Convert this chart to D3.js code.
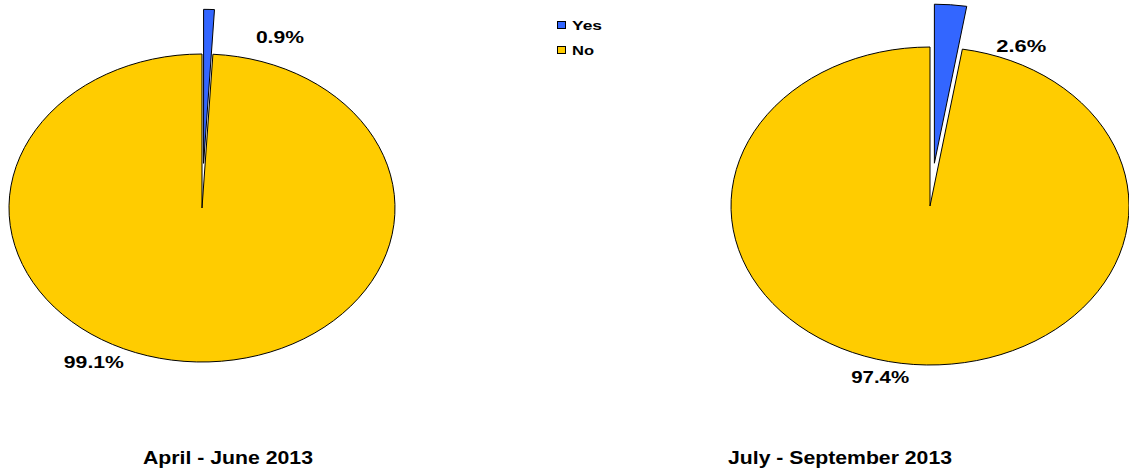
<!DOCTYPE html>
<html>
<head>
<meta charset="utf-8">
<script src="https://cdn.jsdelivr.net/npm/d3@7"></script>
<style>
  html, body { margin: 0; padding: 0; background: #fff; }
  svg { display: block; }
  text { font-family: "Liberation Sans", Arial, sans-serif; font-weight: bold; fill: #000; }
</style>
</head>
<body>
<svg id="chart" width="1129" height="473"></svg>
<script>
// Share of responses per quarter (percent)
const periods = ["April - June 2013", "July - September 2013"];
const categories = ["Yes", "No"];
const yesShare = [0.9, 2.6];
const noShare = [99.1, 97.4];
const palette = ["#3366ff", "#ffcc00"];

// Pie placement (flattened ellipses) and label anchors in each pie's polar frame
const layout = [
  { cx: 202, cy: 208, rx: 193, ry: 154, explode: 0.29, titleX: 228, titleW: 170,
    labels: [{ a: 20, r: 1.18, w: 48 }, { a: 209.3, r: 1.145, w: 60 }] },
  { cx: 930, cy: 206, rx: 199, ry: 159, explode: 0.27, titleX: 840, titleW: 224,
    labels: [{ a: 24.5, r: 1.105, w: 50 }, { a: 193.1, r: 1.105, w: 58 }] }
];

const svg = d3.select("#chart");
const color = d3.scaleOrdinal().domain(categories).range(palette);
const pie = d3.pie().sort(null).value(d => d.value);

periods.forEach((period, i) => {
  const L = layout[i];
  const data = [
    { key: "Yes", value: yesShare[i] },
    { key: "No", value: noShare[i] }
  ];
  const arcs = pie(data);
  const arc = d3.arc().innerRadius(0).outerRadius(L.rx);
  const k = L.ry / L.rx;

  const g = svg.append("g")
    .attr("transform", `translate(${L.cx},${L.cy}) scale(1,${k})`);

  // Draw "No" first so the exploded "Yes" slice sits on top
  const order = [1, 0];
  order.forEach(j => {
    const d = arcs[j];
    let ox = 0, oy = 0;
    if (d.data.key === "Yes") {
      const mid = (d.startAngle + d.endAngle) / 2;
      const dist = L.explode * L.rx;
      ox = Math.sin(mid) * dist;
      oy = -Math.cos(mid) * dist;
    }
    g.append("path")
      .attr("d", arc(d))
      .attr("transform", `translate(${ox},${oy})`)
      .attr("fill", color(d.data.key))
      .attr("stroke", "#000")
      .attr("stroke-width", 1)
      .attr("stroke-linejoin", "miter")
      .attr("vector-effect", "non-scaling-stroke");
  });

  // Percentage labels
  arcs.forEach((d, j) => {
    const lab = L.labels[j];
    const ang = lab.a * Math.PI / 180;
    const x = L.cx + Math.sin(ang) * lab.r * L.rx;
    const y = L.cy - Math.cos(ang) * lab.r * L.rx * k;
    svg.append("text")
      .attr("x", x)
      .attr("y", y)
      .attr("dy", "0.36em")
      .attr("text-anchor", "middle")
      .attr("font-size", 17)
      .attr("textLength", lab.w)
      .attr("lengthAdjust", "spacingAndGlyphs")
      .text(d3.format(".1f")(d.data.value) + "%");
  });

  // Period title
  svg.append("text")
    .attr("x", L.titleX)
    .attr("y", 464)
    .attr("text-anchor", "middle")
    .attr("font-size", 19)
    .attr("textLength", L.titleW)
    .attr("lengthAdjust", "spacingAndGlyphs")
    .text(period);
});

// Legend
const legend = svg.append("g").attr("transform", "translate(557,21)");
const legendRow = d3.scaleBand().domain(categories).range([0, 50]);
const legendText = { Yes: 30, No: 22 };
categories.forEach(c => {
  const row = legend.append("g").attr("transform", `translate(0,${legendRow(c)})`);
  row.append("rect")
    .attr("x", 0.5).attr("y", 0.5)
    .attr("width", 8).attr("height", 7)
    .attr("fill", color(c))
    .attr("stroke", "#000")
    .attr("stroke-width", 1);
  row.append("text")
    .attr("x", 15)
    .attr("y", 8.5)
    .attr("font-size", 12.5)
    .attr("textLength", legendText[c])
    .attr("lengthAdjust", "spacingAndGlyphs")
    .text(c);
});
</script>
</body>
</html>
